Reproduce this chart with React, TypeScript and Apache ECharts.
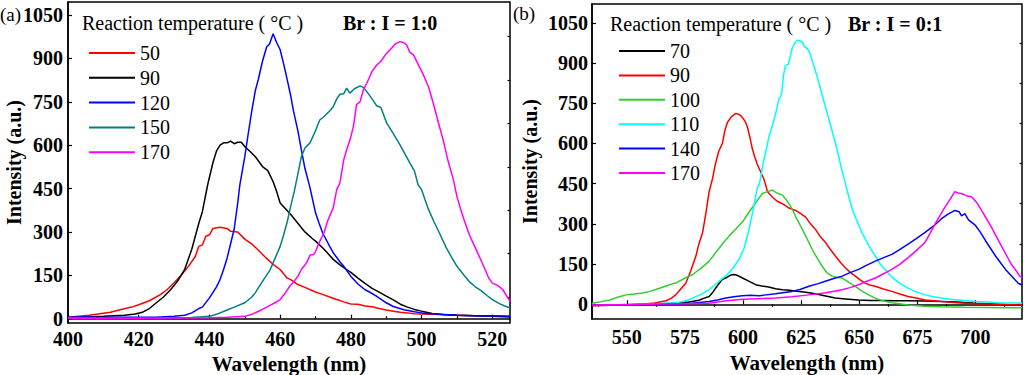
import React, { useEffect, useRef } from "react";
import * as echarts from "echarts";

type P = [number, number][];

// ---------- Panel (a): Br : I = 1:0 ----------
const namesA = ["50", "90", "120", "150", "170"];
const colorsA = ["#ff0000", "#000000", "#0000ff", "#008080", "#ff00ff"];
const xTicksA = [400, 420, 440, 460, 480, 500, 520];
const yTicks = [0, 150, 300, 450, 600, 750, 900, 1050];
const yMinor = [75, 225, 375, 525, 675, 825, 975];

const a50: P = [[400,5],[403,8],[406,12],[409,17],[412,22],[415,32],[418,40],[420,48],[423,62],[426,82],[428,100],[430,124],[432,150],[434,180],[436,215],[437,250],[438,255],[439,285],[440,290],[441,312],[443,316],[445,312],[446,302],[448,300],[450,275],[452,258],[454,235],[456,210],[458,188],[460,170],[462,140],[463,135],[465,118],[467,108],[470,92],[472,84],[474,75],[476,66],[478,58],[480,51],[482,50],[484,44],[486,41],[488,35],[490,30],[492,26],[494,22],[496,20],[498,17],[500,16],[505,14],[510,12],[515,10],[520,10],[525,8]];
const a90: P = [[400,3],[405,6],[410,8],[413,10],[416,12],[419,16],[421,22],[423,35],[425,55],[427,75],[429,100],[431,130],[433,170],[435,240],[437,330],[438,370],[439.5,463],[441,540],[442,580],[443,600],[444,608],[445,608],[446,614],[447,605],[448,610],[449,610],[450,595],[451.5,578],[453,560],[455,526],[456.5,512],[458,474],[459,440],[460,400],[461.5,380],[463,360],[465,330],[467,300],[469,278],[470,268],[472,245],[473,232],[475,205],[477,185],[479,168],[480,160],[482,140],[484,122],[486,105],[488,92],[490,78],[492,65],[494,50],[496,40],[498,32],[500,26],[503,18],[506,14],[510,12],[515,10],[520,8],[525,6]];
const a120: P = [[400,5],[405,6],[410,4],[415,5],[420,5],[425,5],[430,8],[433,12],[435,20],[437,35],[438,40],[440,72],[442,110],[443,135],[444,170],[445,210],[446,260],[447,310],[448,400],[448.6,463],[450,560],[451,642],[452,720],[453,790],[453.8,826],[455,890],[456.2,940],[457,950],[458,985],[459,955],[460,930],[461,880],[461.8,837],[463,770],[463.7,722],[465,650],[466,584],[467,520],[468.4,455],[470,366],[471,330],[472,297],[474,250],[475,228],[477,195],[478,181],[480,146],[482,120],[484,100],[485,94],[487,80],[490,55],[492,42],[495,31],[498,24],[500,20],[505,15],[510,12],[515,10],[520,9],[525,8]];
const a150: P = [[400,3],[410,3],[420,2],[426,0],[430,3],[435,4],[440,8],[442,15],[445,30],[447,40],[450,55],[452,75],[453,90],[455,129],[457,165],[458,193],[460,250],[461,290],[462,335],[463,390],[464,440],[465,500],[466,560],[467,590],[468.4,607],[470,650],[471.2,687],[472.5,700],[474,718],[475,733],[476,760],[476.9,776],[478,778],[478.8,797],[479.7,780],[481,795],[482.6,805],[483.5,800],[484.5,785],[486,760],[487.3,736],[488.5,730],[490.1,677],[492,640],[493.9,601],[495.5,565],[496.7,538],[498,510],[499,463],[500,446],[501,410],[502,376],[503.5,335],[505,297],[507,245],[508.5,212],[510,181],[512,150],[513.5,128],[515,112],[517,95],[518.5,80],[520,66],[522,52],[523.5,44],[525,38]];
const a170: P = [[400,2],[410,0],[420,1],[430,2],[440,3],[445,5],[450,8],[452,15],[454.8,31],[457,45],[458.5,55],[460,66],[461.5,90],[462.7,112],[464,130],[465,146],[466,170],[467.4,192],[468.5,220],[469.5,222],[470,232],[471,262],[472.4,297],[473.5,340],[475,383],[476,446],[476.9,470],[478,550],[478.8,584],[479.8,620],[480.7,664],[481.6,740],[482.6,750],[483.5,790],[484.5,814],[486,855],[487.3,877],[488.5,890],[490.1,918],[491.5,935],[492.5,950],[493.9,958],[495,954],[495.8,946],[496.6,922],[497.7,912],[499,880],[500.5,843],[502,800],[503.3,745],[504.7,680],[506.1,618],[507.5,545],[509,480],[510,422],[511,380],[512,342],[513.5,290],[515,250],[516.5,210],[518,169],[519,140],[520,123],[521.5,115],[523,100],[524,80],[525,60]];
const dataA = [a50, a90, a120, a150, a170];

// ---------- Panel (b): Br : I = 0:1 ----------
const namesB = ["70", "90", "100", "110", "140", "170"];
const colorsB = ["#000000", "#ff0000", "#33cc33", "#00ffff", "#0000ff", "#ff00ff"];
const xTicksB = [550, 575, 600, 625, 650, 675, 700];
const xMinorB = [537.5, 562.5, 587.5, 612.5, 637.5, 662.5, 687.5, 712.5];

const b70: P = [[535,-5],[540,-3],[545,-4],[550,-2],[555,-1],[560,0],[565,2],[570,4],[575,6],[578,10],[581,15],[583,22],[585.4,29],[587,45],[589,70],[591,92],[593,100],[594.5,108],[596,111],[597.5,108],[599.7,98],[602,88],[605.4,73],[608,68],[611,64],[614,58],[617,54],[620,52],[624,48],[627,45],[631,39],[635,32],[639.7,23],[644,20],[649.7,16],[655,14],[660,14],[665,13],[671,13],[678,12],[685.4,10],[692,8],[700,4],[705,2],[710,0],[715,-2],[720,-3]];
const b90: P = [[535,-6],[540,-5],[545,-3],[550,-2],[556.9,0],[562,5],[566.9,13],[569,22],[571,35],[573,55],[575.4,79],[577.5,125],[579.7,180],[581,225],[582.6,268],[584,340],[585.4,420],[586.9,470],[588,520],[589.5,570],[591.1,600],[592.2,650],[593.3,679],[595,700],[596.9,712],[598.3,708],[599.7,697],[601,680],[601.9,660],[603,620],[604,579],[605,550],[606.1,522],[607.5,495],[609,466],[610.5,420],[612.6,400],[614.5,385],[616.9,375],[619.5,360],[622.6,350],[624.5,340],[626.9,325],[629,300],[631,281],[633,255],[635.4,231],[637.5,205],[639.7,180],[642,155],[644,136],[646,120],[648.3,105],[650.5,90],[652.6,79],[654.5,72],[656.9,67],[660,58],[664,48],[667.5,38],[671,29],[675,22],[678.3,16],[682,13],[685.4,10],[692,6],[700,2],[710,0],[720,-3]];
const b100: P = [[535,4],[538,8],[542.6,16],[546,26],[549.7,35],[553,38],[556.9,42],[560,48],[564,60],[567.5,70],[569,75],[571,79],[574.5,95],[578.3,111],[582,135],[585.4,161],[588,190],[591,224],[594,255],[596.9,281],[600,310],[602.6,344],[605.5,380],[608.3,413],[610.5,420],[612.6,426],[614.5,415],[616.9,407],[619,385],[621,357],[623,320],[625.4,281],[627.5,245],[629.7,205],[632,170],[634,142],[636,118],[638.3,105],[640.5,100],[642.6,98],[645.5,82],[648.3,67],[651,50],[654,35],[657,22],[659.7,14],[664,6],[671,-3],[678,-7],[685.4,-9],[695,-11],[705,-12],[712,-13],[720,-13]];
const b110: P = [[535,-3],[545,-2],[555,0],[563,2],[571,6],[575,12],[578.3,23],[582,38],[585.4,54],[587.5,70],[589.7,86],[592,102],[594,117],[596,140],[598.3,168],[600.5,210],[602.6,281],[604.5,360],[606.1,432],[607.1,450],[608.5,520],[609.7,566],[611,620],[612.6,666],[614,710],[615.4,766],[616.5,780],[617.5,860],[618.3,891],[619.5,895],[621.1,954],[622.3,975],[623.3,985],[624.5,982],[625.4,979],[626.5,960],[627.6,954],[628.6,940],[629.7,910],[631.5,860],[633.3,804],[635,750],[636.9,691],[638.5,640],[640.4,579],[642.5,500],[644,450],[645.5,400],[646.9,357],[649,310],[651.1,268],[654,220],[656.9,180],[659,150],[661.1,130],[663,110],[665.4,92],[668,75],[671,60],[674,48],[678.3,35],[682,28],[685.4,23],[690,18],[695,14],[700,10],[705,8],[710,6],[715,5],[720,4]];
const b140: P = [[535,-3],[545,-2],[555,-1],[565,0],[571,1],[578,4],[585.4,10],[589,16],[592.6,23],[596,28],[599.7,32],[603,34],[606.9,32],[610,35],[614,39],[617,43],[621,48],[624.5,55],[628.3,67],[632,76],[635.4,86],[639,96],[642.6,105],[646,118],[649.7,130],[653,145],[656.9,161],[660,172],[664,186],[667.5,205],[671,224],[674.5,245],[678.3,268],[682,292],[685.4,319],[688,335],[691.1,350],[693,345],[694,330],[695.4,338],[697,315],[700,294],[702,270],[704.3,237],[706.5,208],[708.6,180],[711,152],[712.9,130],[715.5,105],[718.3,79],[720,72]];
const b170: P = [[535,-3],[545,-2],[555,-1],[565,1],[575,2],[585.4,4],[592,12],[599.7,19],[606,21],[614,23],[621,28],[628.3,35],[635,42],[642.6,54],[646,62],[649.7,73],[653,85],[656.9,98],[660,112],[664,130],[667.5,150],[671,174],[674.5,200],[678.3,231],[680.5,265],[682.6,300],[685,335],[686.9,363],[689,390],[691.1,420],[692.5,415],[694,413],[696,405],[698.3,401],[700.5,380],[702.6,350],[704.8,318],[706.9,287],[709,252],[711.1,218],[713.5,180],[715.4,149],[717.5,125],[719,105],[720,100]];
const dataB = [b70, b90, b100, b110, b140, b170];

const FONT = "Liberation Serif";

export default function App() {
  const ref = useRef<HTMLDivElement>(null);
  useEffect(() => {
    if (!ref.current) return;
    const chart = echarts.init(ref.current, undefined, { renderer: "svg" });

    const fmt = (v: number) => String(v);
    const axisLabel = { fontFamily: FONT, fontSize: 20, fontWeight: "bold" as const, color: "#000", formatter: fmt };
    const xName = { fontFamily: FONT, fontSize: 21, fontWeight: "bold" as const, color: "#000" };
    const yName = { fontFamily: FONT, fontSize: 20, fontWeight: "bold" as const, color: "#000" };
    const line = { show: true, lineStyle: { color: "#000", width: 1.5 } };

    const mainX = (gi: number, min: number, max: number, extra: any) => ({
      type: "value", gridIndex: gi, min, max,
      name: "Wavelength (nm)", nameLocation: "middle", nameTextStyle: xName, nameMoveOverlap: false,
      axisLine: line, splitLine: { show: false },
      ...extra,
    });

    const legendText = { fontFamily: FONT, fontSize: 20, color: "#000", lineHeight: 20 };

    const option: any = {
      animation: false,
      backgroundColor: "#fff",
      grid: [
        { left: 68, top: 2, width: 442, height: 321, show: true, borderColor: "#000", borderWidth: 1.5, containLabel: false, outerBoundsMode: "none" },
        { left: 592, top: 4, width: 430, height: 315, show: true, borderColor: "#000", borderWidth: 1.5, containLabel: false, outerBoundsMode: "none" },
      ],
      xAxis: [
        mainX(0, 400, 525, {
          interval: 20, nameGap: 30,
          axisLabel: { ...axisLabel, margin: 6, customValues: xTicksA },
          axisTick: { inside: true, length: 4, lineStyle: { width: 1.2 }, customValues: xTicksA },
          minorTick: { show: true, splitNumber: 2, length: 2.5, lineStyle: { color: "#000", width: 1.2 } },
        }),
        mainX(1, 535, 720, {
          nameGap: 33,
          axisLabel: { ...axisLabel, margin: 8, customValues: xTicksB },
          axisTick: { inside: true, length: 4, lineStyle: { width: 1.2 }, customValues: xTicksB },
        }),
        {
          type: "value", gridIndex: 1, min: 535, max: 720,
          axisLine: { show: false }, axisLabel: { show: false }, splitLine: { show: false },
          axisTick: { inside: true, length: 2.5, lineStyle: { color: "#000", width: 1.2 }, customValues: xMinorB },
        },
      ],
      yAxis: [
        {
          type: "value", gridIndex: 0, min: -15, max: 1095,
          name: "Intensity (a.u.)", nameLocation: "middle", nameGap: 44, nameTextStyle: yName, nameMoveOverlap: false,
          axisLine: line, splitLine: { show: false },
          axisLabel: { ...axisLabel, margin: 5, customValues: yTicks },
          axisTick: { inside: true, length: 4, lineStyle: { width: 1.2 }, customValues: yTicks },
        },
        {
          type: "value", gridIndex: 0, min: -15, max: 1095,
          axisLine: { show: false }, axisLabel: { show: false }, splitLine: { show: false },
          axisTick: { inside: true, length: 2.5, lineStyle: { color: "#000", width: 1.2 }, customValues: yMinor },
        },
        {
          type: "value", gridIndex: 1, min: -55, max: 1120,
          name: "Intensity (a.u.)", nameLocation: "middle", nameGap: 52, nameTextStyle: yName, nameMoveOverlap: false,
          axisLine: line, splitLine: { show: false },
          axisLabel: { ...axisLabel, margin: 4, customValues: yTicks },
          axisTick: { inside: true, length: 4, lineStyle: { width: 1.2 }, customValues: yTicks },
        },
        {
          type: "value", gridIndex: 1, min: -55, max: 1120,
          axisLine: { show: false }, axisLabel: { show: false }, splitLine: { show: false },
          axisTick: { inside: true, length: 2.5, lineStyle: { color: "#000", width: 1.2 }, customValues: yMinor },
        },
      ],
      legend: [
        {
          data: namesA.map((n) => "(a) " + n),
          formatter: (n: string) => n.replace(/^\(a\) /, ""),
          orient: "vertical", left: 89, top: 43, padding: 0,
          icon: "rect", itemWidth: 46, itemHeight: 2, itemGap: 4.8,
          selectedMode: false, textStyle: legendText,
        },
        {
          data: namesB.map((n) => "(b) " + n),
          formatter: (n: string) => n.replace(/^\(b\) /, ""),
          orient: "vertical", left: 619, top: 41, padding: 0,
          icon: "rect", itemWidth: 46, itemHeight: 2, itemGap: 4.4,
          selectedMode: false, textStyle: legendText,
        },
      ],
      series: [
        ...dataA.map((d, i) => ({
          type: "line", name: "(a) " + namesA[i], xAxisIndex: 0, yAxisIndex: 0,
          data: d, symbol: "none", color: colorsA[i],
          lineStyle: { width: 1.5, color: colorsA[i] },
        })),
        ...dataB.map((d, i) => ({
          type: "line", name: "(b) " + namesB[i], xAxisIndex: 1, yAxisIndex: 2,
          data: d, symbol: "none", color: colorsB[i],
          lineStyle: { width: 1.5, color: colorsB[i] },
        })),
      ],
      graphic: [
        { type: "text", x: 0, y: 14, style: { text: "(a)", fontFamily: FONT, fontSize: 19, fill: "#000", verticalAlign: "middle" } },
        { type: "text", x: 82, y: 23, style: { text: "Reaction temperature ( °C )", fontFamily: FONT, fontSize: 20, fill: "#000", verticalAlign: "middle" } },
        { type: "text", x: 343, y: 23, style: { text: "Br : I = 1:0", fontFamily: FONT, fontSize: 20, fontWeight: "bold", fill: "#000", verticalAlign: "middle" } },
        { type: "text", x: 513, y: 13, style: { text: "(b)", fontFamily: FONT, fontSize: 19, fill: "#000", verticalAlign: "middle" } },
        { type: "text", x: 610, y: 24, style: { text: "Reaction temperature ( °C )", fontFamily: FONT, fontSize: 20, fill: "#000", verticalAlign: "middle" } },
        { type: "text", x: 848, y: 24, style: { text: "Br : I = 0:1", fontFamily: FONT, fontSize: 20, fontWeight: "bold", fill: "#000", verticalAlign: "middle" } },
      ],
    };
    chart.setOption(option);
    return () => chart.dispose();
  }, []);
  return (
    <div
      ref={ref}
      style={{ position: "fixed", left: 0, top: 0, width: 1024, height: 375, background: "#fff" }}
    />
  );
}
